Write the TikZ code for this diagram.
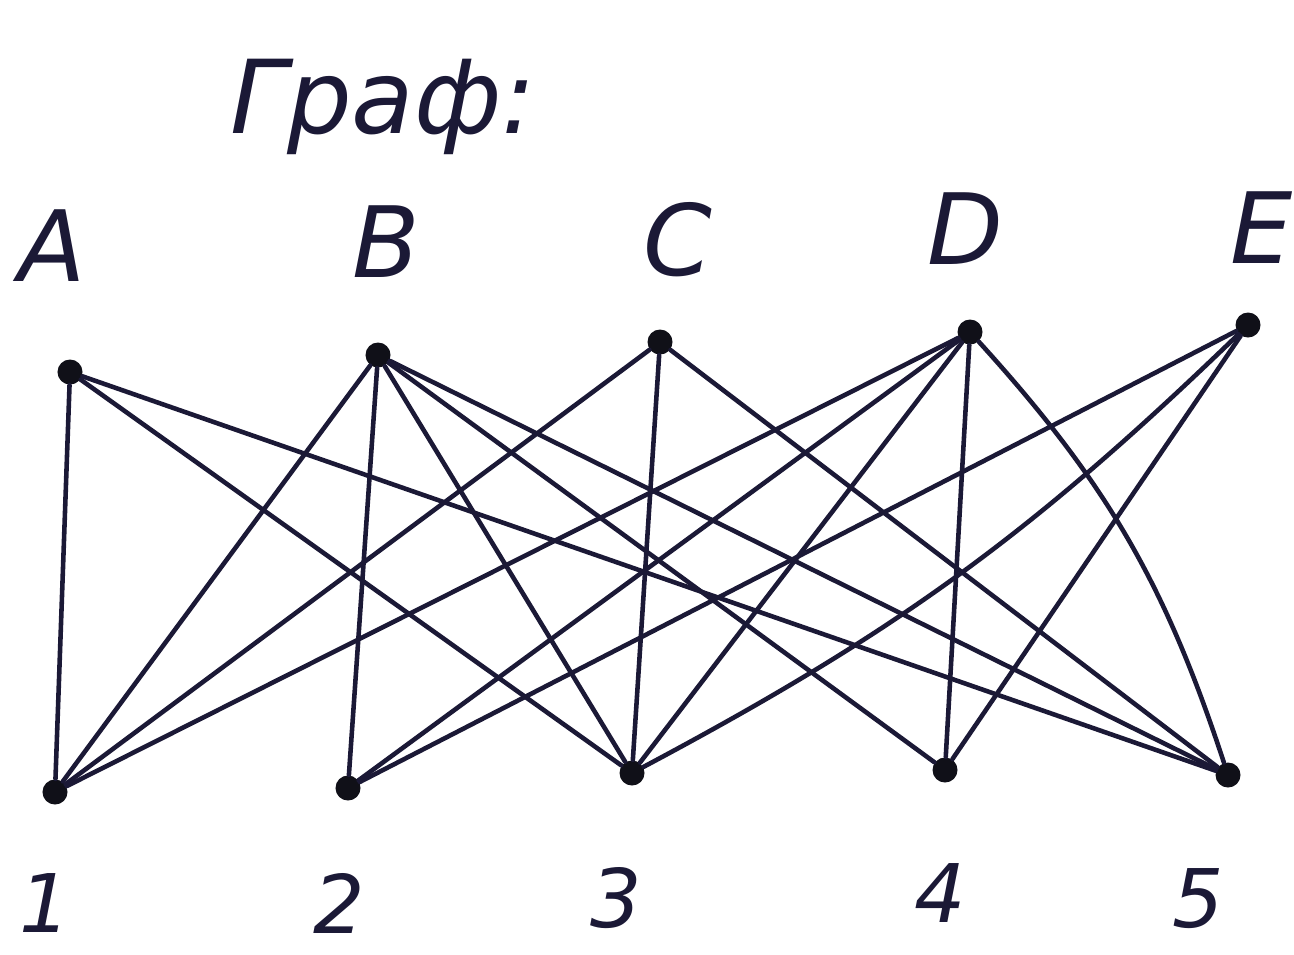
\documentclass[tikz,border=0pt]{standalone}
\usepackage{fontspec}
\setmainfont{DejaVu Sans}
\usetikzlibrary{positioning}
\definecolor{grInk}{HTML}{1B1936}
\definecolor{grDot}{HTML}{101018}
\tikzset{
  gr diagram/.style={x=0.01cm, y=-0.01cm, text=grInk,
    line cap=round, line join=round},
  gr dot/.style={circle, fill=grDot, inner sep=0pt, minimum size=0.25cm},
  gr edge/.style={draw=grInk, line width=1.3pt},
  gr letter/.style={font=\fontsize{28}{30}\selectfont\itshape},
  gr digit/.style={font=\fontsize{23}{26}\selectfont\itshape},
  gr title/.style={font=\fontsize{29}{32}\selectfont\itshape}
}

\begin{document}
\begin{tikzpicture}[gr diagram]
\useasboundingbox (0,0) rectangle (1294,954);
\node[gr title,anchor=base west] (title) at (218,133) {Граф:};
% upper row
\foreach \n/\x/\y/\lx/\ly in {A/70/372/52/246,B/378/355/386/242,C/660/342/678/240,
    D/970/332/965/229,E/1248/325/1262/228}{
  \node[gr dot] (\n) at (\x,\y) {};
  \node[gr letter] (lbl\n) at (\lx,\ly) {\n};
}
% lower row
\foreach \n/\x/\y/\lx/\ly in {1/55/792/45/903,2/348/788/339/903,3/632/773/616/898,
    4/945/770/940/893,5/1228/775/1198/899}{
  \node[gr dot] (v\n) at (\x,\y) {};
  \node[gr digit] (lbl\n) at (\lx,\ly) {\n};
}
% edges
\foreach \t/\b in {A/1,A/3,A/5,B/1,B/2,B/3,B/4,B/5,C/1,C/3,C/5,
    D/1,D/2,D/3,D/4,E/2,E/4}{
  \draw[gr edge] (\t) -- (v\b);
}
\draw[gr edge] (D) to[bend left=12] (v5);
\draw[gr edge] (E) to[bend left=8] (v3);
\end{tikzpicture}
\end{document}
